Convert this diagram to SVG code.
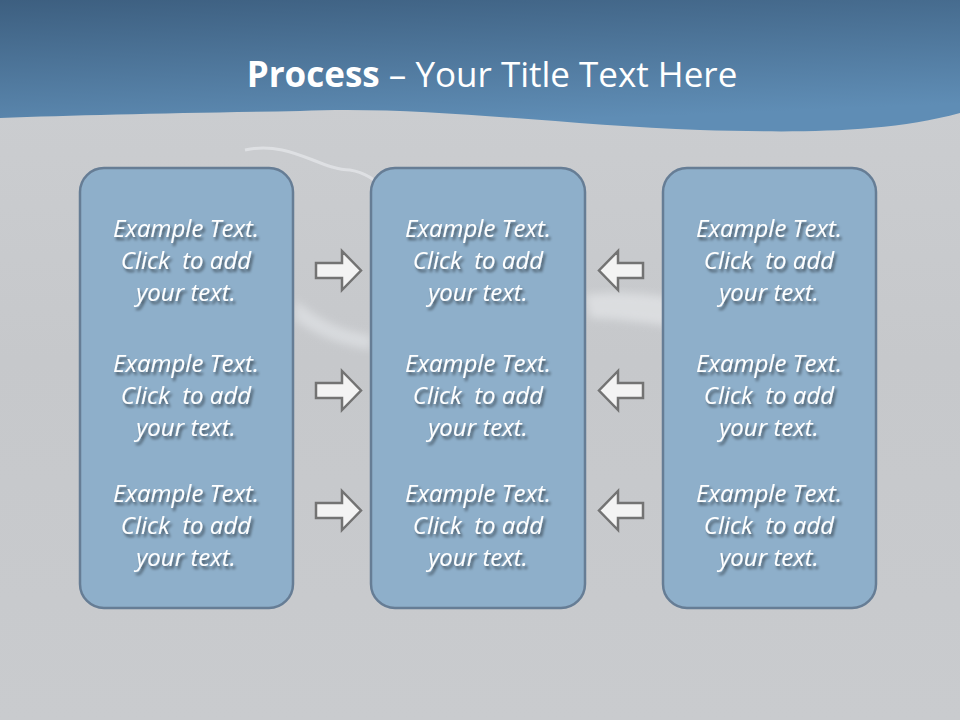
<svg xmlns="http://www.w3.org/2000/svg" width="960" height="720" viewBox="0 0 960 720">
<defs>
<linearGradient id="bg" x1="0" y1="0" x2="0" y2="1">
<stop offset="0" stop-color="#cdcfd2"/>
<stop offset="0.5" stop-color="#c6c8cb"/>
<stop offset="1" stop-color="#c9cbce"/>
</linearGradient>
<linearGradient id="hdr" x1="0" y1="0" x2="0.3" y2="1">
<stop offset="0" stop-color="#3d5f80"/>
<stop offset="1" stop-color="#5f8db5"/>
</linearGradient>
<filter id="sh" x="-20%" y="-20%" width="140%" height="160%">
<feGaussianBlur in="SourceAlpha" stdDeviation="1.5"/>
<feOffset dx="2" dy="3" result="b"/>
<feComponentTransfer in="b" result="c"><feFuncA type="linear" slope="0.55"/></feComponentTransfer>
<feMerge><feMergeNode in="c"/><feMergeNode in="SourceGraphic"/></feMerge>
</filter>
<filter id="soft"><feGaussianBlur stdDeviation="4"/></filter>
</defs>
<style>
.box{fill:#8eafca;stroke:#667d95;stroke-width:2.5}
.t{font-family:"Open Sans","Noto Sans",sans-serif;font-style:italic;font-size:24px;fill:#ffffff;text-anchor:middle;white-space:pre}
.arr{fill:#f3f3f3;stroke:#737373;stroke-width:2.5;stroke-linejoin:miter}
.title{font-family:"Open Sans","Noto Sans",sans-serif;font-size:35px;fill:#ffffff}
</style>
<rect width="960" height="720" fill="url(#bg)"/>
<g opacity="0.45" filter="url(#soft)">
<path d="M585 295 C640 288 700 300 760 320 L760 345 C700 330 640 320 590 318 Z" fill="#f4f6f8"/>
<path d="M295 300 C320 320 340 330 371 335 L371 350 C340 345 315 335 295 320 Z" fill="#eef1f4"/>
</g>
<path d="M245 150 C290 140 320 170 350 170 C380 175 395 200 400 230" fill="none" stroke="#eef1f4" stroke-width="3" opacity="0.55"/>
<path d="M0 0 H960 V113 C880 135 780 132 700 130 C560 125 420 105 300 111 C180 113 80 115 0 118 Z" fill="url(#hdr)"/>
<text class="title" x="492" y="87" text-anchor="middle"><tspan font-weight="bold">Process</tspan> – Your Title Text Here</text>
<g id="connectors">
<path id="a1" class="arr" d="M316 263 H342 V251 L361 270.5 L342 290 V278 H316 Z"/>
<path id="a2" class="arr" d="M316 383 H342 V371 L361 390.5 L342 410 V398 H316 Z"/>
<path id="a3" class="arr" d="M316 503 H342 V491 L361 510.5 L342 530 V518 H316 Z"/>
<path id="a4" class="arr" d="M643 263 H618 V251 L599 270.5 L618 290 V278 H643 Z"/>
<path id="a5" class="arr" d="M643 383 H618 V371 L599 390.5 L618 410 V398 H643 Z"/>
<path id="a6" class="arr" d="M643 503 H618 V491 L599 510.5 L618 530 V518 H643 Z"/>
</g>
<g id="left">
<rect class="box" x="80" y="168" width="213" height="440" rx="24"/>
<g filter="url(#sh)">
<text class="t" x="186" y="237">Example Text.</text><text class="t" x="186" y="269">Click  to add</text><text class="t" x="186" y="301">your text.</text>
<text class="t" x="186" y="372">Example Text.</text><text class="t" x="186" y="404">Click  to add</text><text class="t" x="186" y="436">your text.</text>
<text class="t" x="186" y="502">Example Text.</text><text class="t" x="186" y="534">Click  to add</text><text class="t" x="186" y="566">your text.</text>
</g>
</g>
<g id="middle">
<rect class="box" x="371" y="168" width="214" height="440" rx="24"/>
<g filter="url(#sh)">
<text class="t" x="478" y="237">Example Text.</text><text class="t" x="478" y="269">Click  to add</text><text class="t" x="478" y="301">your text.</text>
<text class="t" x="478" y="372">Example Text.</text><text class="t" x="478" y="404">Click  to add</text><text class="t" x="478" y="436">your text.</text>
<text class="t" x="478" y="502">Example Text.</text><text class="t" x="478" y="534">Click  to add</text><text class="t" x="478" y="566">your text.</text>
</g>
</g>
<g id="right">
<rect class="box" x="663" y="168" width="213" height="440" rx="24"/>
<g filter="url(#sh)">
<text class="t" x="769" y="237">Example Text.</text><text class="t" x="769" y="269">Click  to add</text><text class="t" x="769" y="301">your text.</text>
<text class="t" x="769" y="372">Example Text.</text><text class="t" x="769" y="404">Click  to add</text><text class="t" x="769" y="436">your text.</text>
<text class="t" x="769" y="502">Example Text.</text><text class="t" x="769" y="534">Click  to add</text><text class="t" x="769" y="566">your text.</text>
</g>
</g>
</svg>
